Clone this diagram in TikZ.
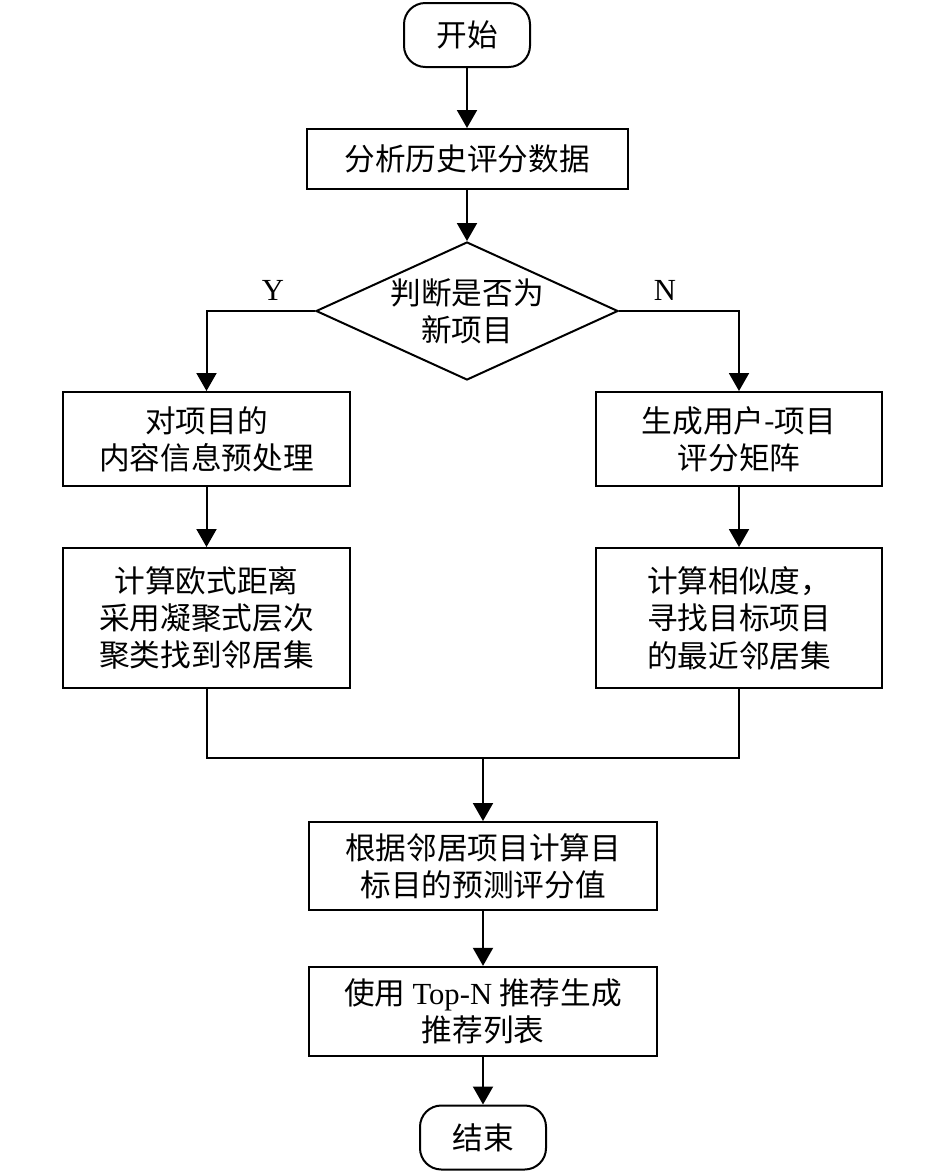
\documentclass[tikz,border=0pt]{standalone}
\usepackage{fontspec}
\setmainfont{Noto Sans CJK SC}
\newfontfamily\latinfont{Liberation Serif}
\usetikzlibrary{shapes.geometric,arrows.meta}

\tikzset{every picture/.style={line width=1.5pt}}
\tikzset{
  procbox/.style={draw, rectangle, inner sep=0pt, align=center,
    minimum width=215pt, font=\fontsize{23}{28}\selectfont},
  termbox/.style={draw, rectangle, rounded corners=16pt, inner sep=0pt,
    minimum width=94.5pt, minimum height=48pt, font=\fontsize{23}{28}\selectfont},
  decbox/.style={draw, diamond, aspect=2.2, inner sep=0pt, align=center,
    minimum width=226.5pt, minimum height=103.5pt, font=\fontsize{23}{28}\selectfont},
  branchlabel/.style={inner sep=0pt, font=\latinfont\fontsize{23}{26}\selectfont},
  flow/.style={-{Triangle[width=15pt,length=13.5pt]}}
}

\begin{document}
\begin{tikzpicture}[x=0.75pt,y=0.75pt,yscale=-1,xscale=1]
\useasboundingbox (0,0) rectangle (945,1174);

% Nodes
\node [termbox] (start) at (467,35) {开始};
\node [procbox, minimum width=240.75pt, minimum height=45pt] (analyse) at (467,159) {分析历史评分数据};
\node [decbox] (isnew) at (467,311) {判断是否为\\新项目};
\node [procbox, minimum height=70.5pt] (prep) at (206.5,439) {对项目的\\内容信息预处理};
\node [procbox, minimum height=70.5pt] (matrix) at (739,439) {生成用户-项目\\评分矩阵};
\node [procbox, minimum height=105pt] (cluster) at (206.5,618) {计算欧式距离\\采用凝聚式层次\\聚类找到邻居集};
\node [procbox, minimum height=105pt] (simil) at (739,618) {计算相似度，\\寻找目标项目\\的最近邻居集};
\node [procbox, minimum width=261pt, minimum height=66pt] (predict) at (483,866) {根据邻居项目计算目\\标目的预测评分值};
\node [procbox, minimum width=261pt, minimum height=67pt] (topn) at (483,1011.5) {使用 {\latinfont Top-N} 推荐生成\\推荐列表};
\node [termbox] (stop) at (483,1137.5) {结束};

% Branch labels
\node [branchlabel] (ylab) at (273,290) {Y};
\node [branchlabel] (nlab) at (665,290) {N};

\coordinate (merge) at (483,758);

% Connectors
\draw [flow] (start) -- (analyse);
\draw [flow] (analyse) -- (isnew);
\draw [flow] (isnew.west) -| (prep.north);
\draw [flow] (isnew.east) -| (matrix.north);
\draw [flow] (prep) -- (cluster);
\draw [flow] (matrix) -- (simil);
\draw (cluster.south) |- (merge) -| (simil.south);
\draw [flow] (merge) -- (predict);
\draw [flow] (predict) -- (topn);
\draw [flow] (topn) -- (stop);

\end{tikzpicture}
\end{document}
